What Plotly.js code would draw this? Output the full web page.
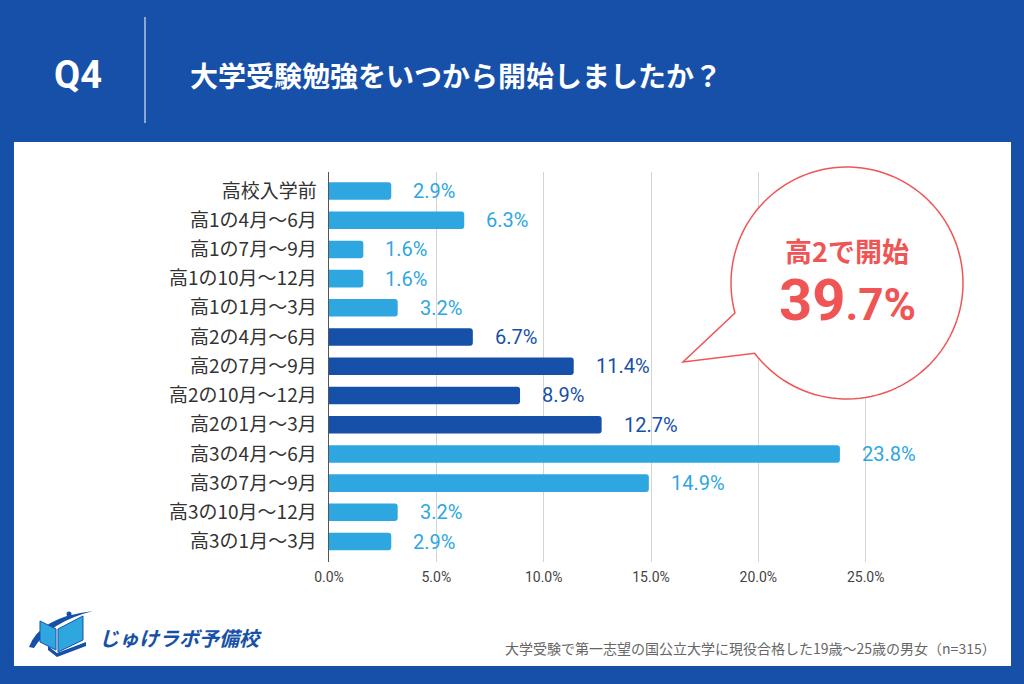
<!DOCTYPE html>
<html>
<head>
<meta charset="utf-8">
<script src="https://cdn.plot.ly/plotly-3.0.1.min.js"></script>
<style>
  html, body { margin: 0; padding: 0; background: #1650A8; }
  #chart { width: 1024px; height: 684px; }
</style>
</head>
<body>
<div id="chart"></div>
<script>
// ---- data ----
const categories = [
  '高校入学前',
  '高1の4月～6月',
  '高1の7月～9月',
  '高1の10月～12月',
  '高1の1月～3月',
  '高2の4月～6月',
  '高2の7月～9月',
  '高2の10月～12月',
  '高2の1月～3月',
  '高3の4月～6月',
  '高3の7月～9月',
  '高3の10月～12月',
  '高3の1月～3月'
];
const values = [2.9, 6.3, 1.6, 1.6, 3.2, 6.7, 11.4, 8.9, 12.7, 23.8, 14.9, 3.2, 2.9];
const xTicks = [0, 5, 10, 15, 20, 25];
const xTickLabels = ['0.0%', '5.0%', '10.0%', '15.0%', '20.0%', '25.0%'];
const highlightPrefix = '高2';
const titleText = '大学受験勉強をいつから開始しましたか？';
const questionLabel = 'Q4';
const calloutLine1 = '高2で開始';
const calloutMain = '39';
const calloutRest = '.7%';
const footnote = '大学受験で第一志望の国公立大学に現役合格した19歳～25歳の男女（n=315）';
const brandName = 'じゅけラボ予備校';

// ---- style ----
const NAVY = '#1650A8';
const LIGHT = '#2EA7E0';
const RED = '#F05555';
const W = 1024, H = 684;
const M = { l: 329, r: 51, t: 172, b: 122 };
const PW = W - M.l - M.r, PH = H - M.t - M.b;
const px = x => (x - M.l) / PW;
const py = y => (H - M.b - y) / PH;
const pt = (x, y) => px(x).toFixed(5) + ',' + py(y).toFixed(5);

const colors = categories.map(c => c.startsWith(highlightPrefix) ? NAVY : LIGHT);

const trace = {
  type: 'bar',
  orientation: 'h',
  y: categories,
  x: values,
  width: 0.6,
  marker: { color: colors, cornerradius: 3, line: { width: 0 } },
  hoverinfo: 'skip'
};

const annotations = [];
// bar value labels
categories.forEach((c, i) => {
  annotations.push({
    x: values[i], y: c, xref: 'x', yref: 'y',
    text: values[i].toFixed(1) + '%',
    showarrow: false, xanchor: 'left', yanchor: 'middle', xshift: 20,
    font: { family: 'Roboto, sans-serif', size: 20, weight: 400, color: colors[i] }
  });
});
// header
annotations.push({
  xref: 'paper', yref: 'paper', x: px(78), y: py(75),
  text: '<b>' + questionLabel + '</b>', showarrow: false,
  xanchor: 'center', yanchor: 'middle',
  font: { family: 'Roboto, sans-serif', size: 38, color: '#ffffff' }
});
annotations.push({
  xref: 'paper', yref: 'paper', x: px(188), y: py(75),
  text: '<b>' + titleText + '</b>', showarrow: false,
  xanchor: 'left', yanchor: 'middle',
  font: { family: '"Noto Sans CJK JP", sans-serif', size: 28, color: '#ffffff' }
});
// callout text
annotations.push({
  xref: 'paper', yref: 'paper', x: px(847), y: py(250),
  text: '<b>' + calloutLine1 + '</b>', showarrow: false,
  xanchor: 'center', yanchor: 'middle',
  font: { family: '"Noto Sans CJK JP", sans-serif', size: 27, color: RED }
});
annotations.push({
  xref: 'paper', yref: 'paper', x: px(847), y: py(300),
  text: '<b>' + calloutMain + '<span style="font-size:44px">' + calloutRest + '</span></b>', showarrow: false,
  xanchor: 'center', yanchor: 'middle',
  font: { family: 'Roboto, sans-serif', size: 58, color: RED }
});
// footnote
annotations.push({
  xref: 'paper', yref: 'paper', x: px(998), y: py(648),
  text: footnote, showarrow: false,
  xanchor: 'right', yanchor: 'middle',
  font: { family: '"Noto Sans CJK JP", sans-serif', size: 14, color: '#666666' }
});
// brand
annotations.push({
  xref: 'paper', yref: 'paper', x: px(97), y: py(637),
  text: '<b>' + brandName + '</b>', showarrow: false,
  xanchor: 'left', yanchor: 'middle',
  font: { family: '"Noto Sans CJK JP", sans-serif', size: 20, color: NAVY, style: 'italic' }
});

// speech bubble path
function bubblePath() {
  const cx = 847, cy = 283, r = 116;
  const a1 = Math.atan2(313 - cy, 735 - cx);
  let a2 = Math.atan2(353 - cy, 755 - cx);
  if (a2 < a1) a2 += 2 * Math.PI;
  const n = 120;
  let d = 'M' + pt(cx + r * Math.cos(a1), cy + r * Math.sin(a1));
  for (let k = 1; k <= n; k++) {
    const a = a1 + (a2 - a1) * k / n;
    d += ' L' + pt(cx + r * Math.cos(a), cy + r * Math.sin(a));
  }
  d += ' L' + pt(683, 362) + ' Z';
  return d;
}

const shapes = [
  // white panel
  { type: 'rect', xref: 'paper', yref: 'paper', x0: px(14), x1: px(1011), y0: py(666), y1: py(142),
    fillcolor: '#ffffff', line: { width: 0 }, layer: 'below' },
  // header divider
  { type: 'line', xref: 'paper', yref: 'paper', x0: px(145), x1: px(145), y0: py(17), y1: py(123),
    line: { color: '#ffffff', width: 1 } },
  // bubble
  { type: 'path', xref: 'paper', yref: 'paper', path: bubblePath(),
    fillcolor: '#ffffff', line: { color: RED, width: 1.5 }, layer: 'above' },
  // logo: swoosh
  { type: 'path', xref: 'paper', yref: 'paper',
    path: 'M' + pt(29, 647) + ' Q' + pt(40, 617) + ' ' + pt(93, 611) + ' Q' + pt(50, 622) + ' ' + pt(34, 648) + ' Z',
    fillcolor: NAVY, line: { width: 0 } },
  // logo: left page
  { type: 'path', xref: 'paper', yref: 'paper',
    path: 'M' + pt(40, 621) + ' L' + pt(56, 629) + ' L' + pt(56, 650) + ' L' + pt(40, 642) + ' Z',
    fillcolor: LIGHT, line: { color: NAVY, width: 1 } },
  // logo: right page
  { type: 'path', xref: 'paper', yref: 'paper',
    path: 'M' + pt(58, 629) + ' L' + pt(83, 616) + ' L' + pt(83, 640) + ' L' + pt(58, 652) + ' Z',
    fillcolor: LIGHT, line: { color: NAVY, width: 1 } },
  // logo: book base
  { type: 'path', xref: 'paper', yref: 'paper',
    path: 'M' + pt(48, 646) + ' L' + pt(57, 653) + ' L' + pt(86, 642) + ' L' + pt(86, 646) + ' L' + pt(57, 657) + ' L' + pt(48, 650) + ' Z',
    fillcolor: NAVY, line: { width: 0 } },
  // logo: dot
  { type: 'circle', xref: 'paper', yref: 'paper',
    x0: px(66.5), x1: px(71.5), y0: py(616.5), y1: py(611.5),
    fillcolor: NAVY, line: { width: 0 } }
];

const layout = {
  width: W, height: H,
  margin: M,
  paper_bgcolor: NAVY,
  plot_bgcolor: 'rgba(0,0,0,0)',
  showlegend: false,
  xaxis: {
    range: [0, 30],
    tickmode: 'array',
    tickvals: xTicks,
    ticktext: xTickLabels,
    showgrid: true,
    gridcolor: '#d4d4d4',
    gridwidth: 1,
    zeroline: false,
    showline: false,
    ticks: '',
    ticklabelstandoff: 5,
    tickfont: { family: 'Roboto, sans-serif', size: 14, color: '#444444' },
    fixedrange: true
  },
  yaxis: {
    type: 'category',
    categoryorder: 'array',
    categoryarray: categories,
    range: [12.7, -0.65],
    showgrid: false,
    zeroline: false,
    showline: true,
    linecolor: '#555555',
    linewidth: 1.5,
    ticks: '',
    ticklabelstandoff: 7,
    tickfont: { family: '"Noto Sans CJK JP", sans-serif', size: 19, color: '#333333' },
    fixedrange: true
  },
  annotations: annotations,
  shapes: shapes
};

Plotly.newPlot('chart', [trace], layout, { displayModeBar: false, staticPlot: true });
</script>
</body>
</html>
